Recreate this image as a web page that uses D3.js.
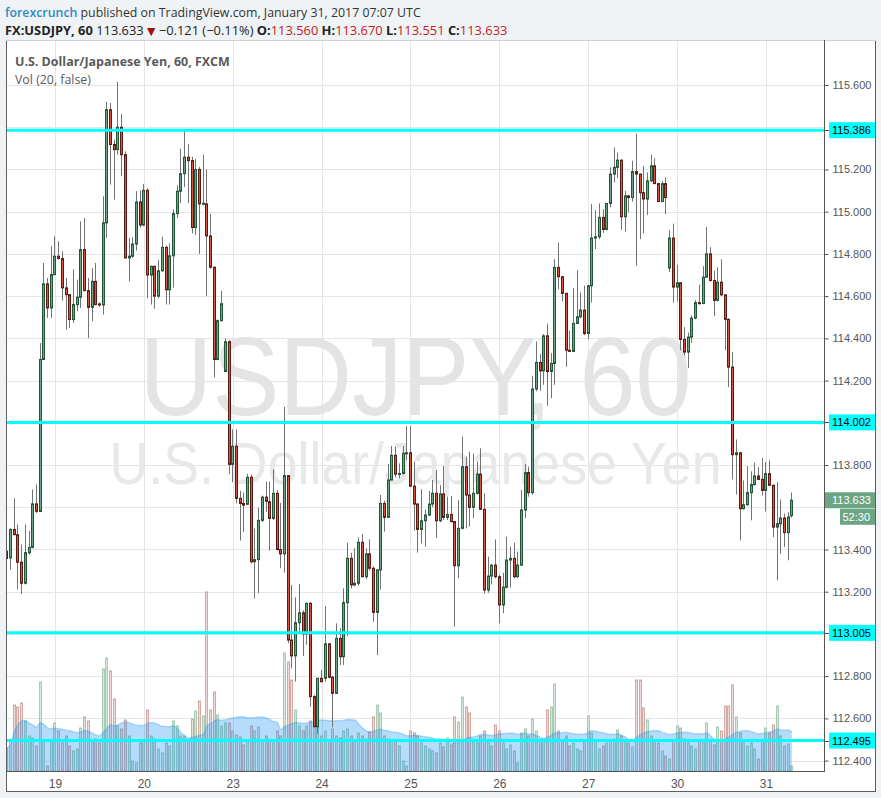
<!DOCTYPE html>
<html><head><meta charset="utf-8">
<script src="https://cdnjs.cloudflare.com/ajax/libs/d3/7.8.5/d3.min.js"></script>
<style>html,body{margin:0;padding:0;background:#f0f3f6;}svg{display:block}</style>
</head><body><svg id="c" width="881" height="798"></svg>
<script>
// ---------- DATA (USD/JPY, 60 min, FXCM) ----------
const opens=[113.392,113.36,113.495,113.47,113.34,113.24,113.385,113.41,113.616,113.58,
114.30,114.658,114.544,114.702,114.789,114.778,114.639,114.607,114.489,114.56,
114.595,114.82,114.626,114.547,114.67,114.563,114.558,114.947,115.483,115.318,
115.294,115.40,115.27,114.781,114.789,114.847,115.046,114.937,115.101,114.70,
114.741,114.60,114.72,114.831,114.63,114.791,114.991,115.097,115.18,115.258,
115.242,114.925,115.20,115.037,115.037,114.885,114.737,114.30,114.484,114.243,
114.384,113.803,113.889,113.642,113.618,113.614,113.742,113.342,113.352,113.538,
113.648,113.626,113.547,113.666,113.40,113.379,113.75,112.971,112.896,113.053,
113.10,113.0,113.145,112.703,112.56,112.79,112.79,112.953,112.795,112.719,
112.979,112.892,113.148,113.358,113.232,113.24,113.434,113.271,113.379,113.311,
113.102,113.303,113.618,113.552,113.729,113.846,113.757,113.76,113.855,113.858,
113.70,113.615,113.495,113.536,113.563,113.615,113.666,113.536,113.663,113.552,
113.566,113.532,113.323,113.50,113.792,113.658,113.60,113.666,113.757,113.59,
113.208,113.274,113.326,113.271,113.137,113.221,113.35,113.358,113.271,113.326,
113.587,113.764,113.669,114.16,114.286,114.246,114.412,114.243,114.281,114.736,
114.692,114.613,114.344,114.338,114.471,114.502,114.534,114.423,114.649,114.875,
114.881,114.973,114.916,115.039,115.178,115.21,115.244,114.976,115.075,115.067,
115.19,115.178,115.09,115.06,115.146,115.217,115.133,115.048,115.133,114.733,
114.875,114.643,114.663,114.395,114.335,114.406,114.496,114.569,114.565,114.69,
114.80,114.674,114.58,114.666,114.606,114.49,114.264,113.849,113.858,113.593,
113.612,113.669,113.707,113.748,113.732,113.68,113.759,113.704,113.506,113.522,
113.549,113.48,113.56];
const highs=[113.42,113.50,113.642,113.518,113.424,113.518,113.487,113.684,113.708,114.378,
114.757,114.686,114.836,114.883,114.86,114.812,114.686,114.607,114.726,114.678,
114.954,114.97,114.686,114.733,114.757,114.57,115.073,115.52,115.515,115.341,
115.615,115.463,115.286,114.876,114.879,115.097,115.10,115.131,115.111,114.745,
114.745,114.77,114.881,114.84,114.85,115.01,115.125,115.298,115.382,115.32,
115.26,115.25,115.212,115.27,115.2,114.99,114.74,114.49,114.624,114.40,
114.39,113.969,113.969,113.678,113.67,113.758,113.755,113.50,113.598,113.655,
113.722,113.721,113.78,113.682,113.62,114.076,113.752,113.232,113.173,113.236,
113.112,113.148,113.15,112.71,112.79,112.83,113.132,112.955,112.80,113.05,
113.027,113.216,113.432,113.385,113.405,113.457,113.473,113.405,113.448,113.32,
113.306,113.658,113.631,113.805,113.89,113.887,113.808,113.89,113.985,113.985,
113.816,113.62,113.685,113.59,113.678,113.729,113.776,113.705,113.795,113.65,
113.653,113.535,113.634,113.934,113.84,113.863,113.855,113.816,113.879,113.666,
113.366,113.33,113.448,113.28,113.29,113.46,113.413,113.432,113.39,113.682,
113.805,113.792,114.223,114.385,114.325,114.42,114.47,114.33,114.775,114.854,
114.695,114.616,114.436,114.638,114.723,114.617,114.649,114.652,115.036,115.007,
115.039,115.012,115.04,115.21,115.304,115.28,115.248,115.099,115.078,115.241,
115.37,115.18,115.217,115.186,115.27,115.253,115.136,115.145,115.162,114.911,
114.943,114.748,114.665,114.453,114.427,114.509,114.58,114.654,114.742,114.927,
114.832,114.722,114.737,114.774,114.61,114.495,114.335,113.921,113.862,113.727,
113.795,113.77,113.811,113.79,113.833,113.814,113.822,113.708,113.72,113.637,
113.57,113.577,113.67];
const lows=[113.33,113.305,113.468,113.21,113.19,113.234,113.376,113.405,113.573,113.578,
114.30,114.497,114.497,114.699,114.773,114.579,114.442,114.449,114.473,114.528,
114.544,114.623,114.402,114.481,114.557,114.55,114.513,114.876,115.128,115.057,
115.27,115.168,114.778,114.67,114.781,114.816,114.925,114.931,114.59,114.56,
114.54,114.59,114.715,114.56,114.56,114.64,114.97,115.04,115.117,115.04,
114.897,114.89,114.80,115.03,114.60,114.73,114.215,114.296,114.48,114.24,
113.758,113.718,113.618,113.442,113.482,113.61,113.334,113.167,113.193,113.53,
113.578,113.394,113.54,113.394,113.311,113.29,112.956,112.837,112.774,113.0,
112.896,112.948,112.656,112.558,112.526,112.77,112.774,112.79,112.558,112.715,
112.853,112.853,112.99,113.216,113.225,113.228,113.268,113.26,113.30,113.058,
112.90,113.21,113.484,113.55,113.726,113.742,113.737,113.755,113.824,113.695,
113.489,113.385,113.429,113.413,113.56,113.60,113.453,113.53,113.54,113.54,
113.528,113.035,113.263,113.495,113.50,113.508,113.547,113.66,113.587,113.192,
113.195,113.235,113.263,113.05,113.098,113.216,113.22,113.263,113.266,113.323,
113.548,113.65,113.66,114.15,114.152,114.18,114.081,114.117,114.18,114.633,
114.575,114.265,114.335,114.335,114.468,114.495,114.415,114.396,114.57,114.823,
114.87,114.90,114.91,115.02,115.138,115.16,114.913,114.906,114.996,115.048,
114.744,114.87,114.897,114.985,115.14,115.13,115.045,115.045,114.988,114.714,
114.569,114.575,114.343,114.319,114.259,114.379,114.49,114.56,114.562,114.688,
114.668,114.505,114.575,114.60,114.343,114.169,113.732,113.66,113.443,113.59,
113.608,113.538,113.704,113.728,113.656,113.58,113.70,113.459,113.254,113.38,
113.412,113.349,113.551];
const closes=[113.357,113.495,113.47,113.34,113.24,113.385,113.41,113.616,113.581,114.30,
114.658,114.544,114.702,114.789,114.778,114.639,114.607,114.489,114.56,114.595,
114.82,114.626,114.547,114.67,114.56,114.558,114.947,115.483,115.318,115.294,
115.40,115.27,114.781,114.789,114.847,115.046,114.937,115.101,114.70,114.741,
114.60,114.72,114.831,114.63,114.791,114.991,115.097,115.18,115.258,115.242,
114.925,115.20,115.037,115.04,114.885,114.737,114.30,114.484,114.564,114.384,
113.803,113.889,113.642,113.618,113.61,113.742,113.342,113.352,113.538,113.648,
113.628,113.547,113.666,113.40,113.379,113.75,112.971,112.896,113.053,113.10,
113.0,113.145,112.703,112.561,112.79,112.774,112.953,112.795,112.719,112.979,
112.892,113.148,113.358,113.232,113.24,113.434,113.271,113.379,113.311,113.102,
113.303,113.618,113.552,113.729,113.846,113.757,113.76,113.855,113.858,113.70,
113.615,113.495,113.536,113.563,113.615,113.666,113.536,113.663,113.552,113.566,
113.532,113.323,113.50,113.792,113.658,113.60,113.666,113.757,113.59,113.208,
113.274,113.326,113.271,113.137,113.221,113.35,113.358,113.271,113.326,113.587,
113.764,113.669,114.16,114.286,114.246,114.412,114.243,114.281,114.736,114.692,
114.613,114.344,114.338,114.471,114.502,114.534,114.423,114.649,114.875,114.881,
114.973,114.916,115.039,115.178,115.21,115.244,114.976,115.075,115.067,115.19,
115.178,115.09,115.06,115.146,115.217,115.133,115.048,115.133,115.067,114.875,
114.643,114.663,114.395,114.335,114.406,114.496,114.569,114.565,114.69,114.80,
114.674,114.58,114.666,114.606,114.49,114.264,113.849,113.858,113.593,113.612,
113.669,113.707,113.748,113.732,113.68,113.759,113.704,113.506,113.522,113.549,
113.48,113.554,113.633];
const volumes=[23,30,66,64,68,50,35,33,25,89,
30,5,30,48,40,28,35,25,20,22,
43,54,50,30,32,28,102,113,100,72,
45,42,51,35,10,8,28,30,61,35,
32,22,18,28,25,50,45,35,35,30,
52,60,70,55,179,61,79,56,45,48,
48,40,36,34,26,30,45,40,44,30,
35,30,28,40,35,118,109,91,61,45,
40,45,50,45,52,35,40,30,42,35,
33,40,42,35,30,38,35,32,39,54,
66,58,35,32,30,30,25,10,5,40,
38,35,28,25,22,20,18,28,24,33,
26,54,49,74,64,58,30,28,35,40,
30,25,46,40,28,22,26,20,8,38,
42,35,52,40,30,32,61,64,87,40,
30,35,25,28,22,20,30,55,38,30,
22,25,28,30,32,41,35,30,28,24,
91,91,63,51,35,30,28,20,15,12,
30,45,43,32,28,25,22,30,28,48,
30,26,44,40,65,65,86,54,38,30,
25,28,22,12,30,43,38,46,65,35,
25,27,5];
const dayTickIndex=[13,37,61,85,109,133,157,181,205];
const dayTickLabels=["19","20","23","24","25","26","27","30","31"];
const priceTicks=[112.4,112.6,112.8,113.0,113.2,113.4,113.6,113.8,114.0,114.2,114.4,114.6,114.8,115.0,115.2,115.4,115.6];
const levelLines=[115.386,114.002,113.005,112.495];
const lastPrice=113.633, countdown="52:30", maLength=20;

// ---------- LAYOUT ----------
const svg=d3.select("#c");
const plotL=7, plotR=824, plotT=40, plotB=771;
const x=d3.scaleLinear().domain([0,closes.length-1]).range([6.86,791.9]);
const y=d3.scaleLinear().domain([112.4,115.6]).range([760.6,85]);
const yv=d3.scaleLinear().domain([0,d3.max(volumes)]).range([plotB,plotB-179]);
const UP="#6ba583",DN="#d75442",UPB="#225437",DNB="#5b1a13",WICK="#737375";
const SANS="'Open Sans','Noto Sans',sans-serif", ARIAL="'Liberation Sans',Arial,sans-serif";

// frame
svg.append("rect").attr("x",6.5).attr("y",40.5).attr("width",869).attr("height",751)
  .attr("fill","#fff").attr("stroke","#5f5f5f");
svg.append("line").attr("x1",6).attr("x2",876).attr("y1",40.5).attr("y2",40.5).attr("stroke","#cfd3d8");

svg.append("defs").append("clipPath").attr("id","pc").append("rect")
  .attr("x",plotL).attr("y",plotT+1).attr("width",plotR-plotL).attr("height",plotB-plotT-1);

// grid
const g=svg.append("g");
g.selectAll(".hg").data(priceTicks).join("line")
  .attr("x1",plotL).attr("x2",plotR).attr("y1",d=>Math.round(y(d))+0.5).attr("y2",d=>Math.round(y(d))+0.5)
  .attr("stroke","#e5e5e5");
g.selectAll(".vg").data(dayTickIndex).join("line")
  .attr("x1",d=>Math.round(x(d))+0.5).attr("x2",d=>Math.round(x(d))+0.5).attr("y1",plotT+1).attr("y2",plotB)
  .attr("stroke","#e5e5e5");

// watermark
const cx=(plotL+plotR)/2;
svg.append("text").attr("x",cx).attr("y",415).attr("text-anchor","middle")
  .attr("font-family",ARIAL).attr("font-size",112).attr("fill","#e4e4e4")
  .attr("textLength",552).attr("lengthAdjust","spacingAndGlyphs").text("USDJPY, 60");
svg.append("text").attr("x",cx).attr("y",484).attr("text-anchor","middle")
  .attr("font-family",ARIAL).attr("font-size",60).attr("fill","#e8e8e8")
  .attr("textLength",612).attr("lengthAdjust","spacingAndGlyphs").text("U.S. Dollar/Japanese Yen");

// legend
const lg1=svg.append("text").attr("x",15).attr("y",66).attr("font-family",SANS).attr("font-weight","bold")
  .attr("font-size",12).attr("fill","#5a5a5a").text("U.S. Dollar/Japanese Yen, 60, FXCM");
const lg2=svg.append("text").attr("x",15).attr("y",84).attr("font-family",SANS)
  .attr("font-size",12).attr("fill","#5a5a5a").text("Vol (20, false)");
function fit(sel,target){const w=sel.node().getComputedTextLength();const fs=parseFloat(sel.attr("font-size"));sel.attr("font-size",fs*target/w);}
fit(lg1,215); fit(lg2,76);

const plot=svg.append("g").attr("clip-path","url(#pc)");
const idx=d3.range(closes.length);

// volume bars
plot.selectAll(".vb").data(idx).join("rect")
  .attr("x",i=>Math.floor(x(i))-0.5).attr("width",2)
  .attr("y",i=>yv(volumes[i])).attr("height",i=>plotB-yv(volumes[i]))
  .attr("fill",i=>closes[i]>=opens[i]?"#d3e8da":"#efdad8")
  .attr("stroke",i=>closes[i]>=opens[i]?"#a6cdb3":"#d4aaa5").attr("stroke-width",1);

// volume MA (20)
const ma=idx.map(i=>d3.mean(volumes.slice(Math.max(0,i-maLength+1),i+1)));
plot.append("path").datum(idx)
  .attr("d",d3.area().x(i=>x(i)).y0(plotB).y1(i=>yv(ma[i])).curve(d3.curveMonotoneX))
  .attr("fill","rgba(33,150,243,0.33)");
plot.append("path").datum(idx)
  .attr("d",d3.line().x(i=>x(i)).y(i=>yv(ma[i])).curve(d3.curveMonotoneX))
  .attr("fill","none").attr("stroke","rgba(33,150,243,0.3)").attr("stroke-width",1.5);

// candles
const cg=plot.append("g");
cg.selectAll(".wk").data(idx).join("line")
  .attr("x1",i=>Math.floor(x(i))+0.5).attr("x2",i=>Math.floor(x(i))+0.5)
  .attr("y1",i=>y(Math.max(highs[i],opens[i],closes[i]))).attr("y2",i=>y(Math.min(lows[i],opens[i],closes[i])))
  .attr("stroke",WICK).attr("stroke-width",1);
cg.selectAll(".bd").data(idx).join("rect")
  .attr("x",i=>Math.floor(x(i))-0.5).attr("width",2)
  .attr("y",i=>y(Math.max(opens[i],closes[i])))
  .attr("height",i=>Math.max(1,Math.abs(y(opens[i])-y(closes[i]))))
  .attr("fill",i=>closes[i]>=opens[i]?UP:DN)
  .attr("stroke",i=>closes[i]>=opens[i]?UPB:DNB).attr("stroke-width",1);

// level lines
svg.selectAll(".lv").data(levelLines).join("line")
  .attr("x1",plotL).attr("x2",plotR).attr("y1",d=>y(d)).attr("y2",d=>y(d))
  .attr("stroke","#00ffff").attr("stroke-width",3);

// axes (tick labels hidden where a price label sits, as in the source)
const labelled=levelLines.concat([lastPrice]);
const shownTicks=priceTicks.filter(t=>labelled.every(l=>Math.abs(y(t)-y(l))>13));
const ya=svg.append("g").attr("transform",`translate(${plotR+0.5},0)`)
  .call(d3.axisRight(y).tickValues(shownTicks).tickFormat(d3.format(".3f")).tickSize(4).tickPadding(4));
ya.select(".domain").remove();
ya.selectAll("line").attr("stroke","#555");
ya.selectAll("text").attr("font-family",ARIAL).attr("font-size",11).attr("fill","#555");
const xa=svg.append("g").attr("transform",`translate(0,${plotB})`)
  .call(d3.axisBottom(x).tickValues(dayTickIndex).tickFormat((d,i)=>dayTickLabels[i]).tickSize(0).tickPadding(8));
xa.select(".domain").remove();
xa.selectAll("text").attr("font-family",ARIAL).attr("font-size",12).attr("fill","#555");
svg.append("line").attr("x1",6).attr("x2",plotR+1).attr("y1",plotB+0.5).attr("y2",plotB+0.5).attr("stroke","#555");
svg.append("line").attr("x1",plotR+0.5).attr("x2",plotR+0.5).attr("y1",plotT).attr("y2",plotB+1).attr("stroke","#555");

// level labels
const ll=svg.selectAll(".ll").data(levelLines).join("g");
ll.append("line").attr("x1",plotR+1).attr("x2",plotR+5).attr("y1",d=>Math.round(y(d))+0.5).attr("y2",d=>Math.round(y(d))+0.5).attr("stroke","#555");
ll.append("rect").attr("x",plotR+5).attr("y",d=>y(d)-8).attr("width",46).attr("height",16).attr("fill","#00ffff");
ll.append("text").attr("x",832).attr("y",d=>y(d)+4).attr("font-family",ARIAL).attr("font-size",11)
  .attr("fill","#000").text(d=>d3.format(".3f")(d));

// last price labels
svg.append("rect").attr("x",plotR+1).attr("y",y(lastPrice)-8).attr("width",50).attr("height",16).attr("fill",UP);
svg.append("text").attr("x",832).attr("y",y(lastPrice)+4).attr("font-family",ARIAL).attr("font-size",11)
  .attr("fill","#fff").text(d3.format(".3f")(lastPrice));
svg.append("rect").attr("x",840).attr("y",y(lastPrice)+8.5).attr("width",35).attr("height",16).attr("fill",UP);
svg.append("text").attr("x",870).attr("y",y(lastPrice)+20.5).attr("text-anchor","end").attr("font-family",ARIAL)
  .attr("font-size",11).attr("fill","#fff").text(countdown);

// header
const h1=svg.append("text").attr("x",5).attr("y",17).attr("font-family",SANS).attr("font-size",13);
h1.append("tspan").attr("fill","#2d8ac7").attr("font-weight",600).text("forexcrunch");
h1.append("tspan").attr("fill","#333").text(" published on TradingView.com, January 31, 2017 07:07 UTC");
fit(h1,416);
const h2=svg.append("text").attr("x",5).attr("y",35).attr("font-family",SANS).attr("font-size",13).attr("fill","#222");
h2.append("tspan").attr("font-weight","bold").text("FX:USDJPY, 60");
h2.append("tspan").text(" 113.633 ");
h2.append("tspan").attr("fill","#a01010").attr("font-family","'DejaVu Sans'").attr("font-size","0.85em").text("▼");
h2.append("tspan").text(" −0.121 (−0.11%) ");
[["O:","113.560"],["H:","113.670"],["L:","113.551"],["C:","113.633"]].forEach((p,k)=>{
  h2.append("tspan").attr("font-weight","bold").text((k?" ":"")+p[0]);
  h2.append("tspan").attr("fill","#c41a1a").text(p[1]);
});
fit(h2,503);
</script></body></html>
